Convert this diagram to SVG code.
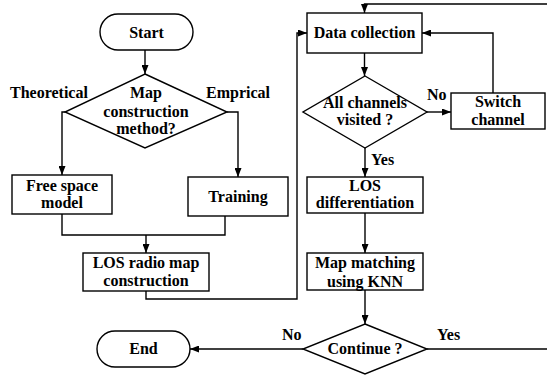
<svg xmlns="http://www.w3.org/2000/svg" width="547" height="379" viewBox="0 0 547 379">
<style>
.s{fill:#fff;stroke:#000;stroke-width:1.4}
.c{fill:none;stroke:#000;stroke-width:1.4}
text{font-family:"Liberation Serif","Times New Roman",serif;font-weight:bold;font-size:16px;fill:#000;text-anchor:middle}
.l{text-anchor:start}
</style>
<defs>
<marker id="a" markerWidth="9" markerHeight="7" refX="9" refY="3.5" orient="auto" markerUnits="userSpaceOnUse">
<path d="M0,0 L9,3.5 L0,7 z" fill="#000"/>
</marker>
</defs>
<rect width="547" height="379" fill="#fff"/>
<g id="connectors">
<path class="c" d="M145,50 V74" marker-end="url(#a)"/>
<path class="c" d="M65,112 H62 V175" marker-end="url(#a)"/>
<path class="c" d="M227,112 H238 V177" marker-end="url(#a)"/>
<path class="c" d="M62,214 V235 H225 V216"/>
<path class="c" d="M146,235 V253" marker-end="url(#a)"/>
<path class="c" d="M146,291 V299 H297 V33 H307" marker-end="url(#a)"/>
<path class="c" d="M547,4 H364.5 V13" marker-end="url(#a)"/>
<path class="c" d="M364.5,53 V76" marker-end="url(#a)"/>
<path class="c" d="M427,112 H451" marker-end="url(#a)"/>
<path class="c" d="M493,93 V33 H422" marker-end="url(#a)"/>
<path class="c" d="M365,148 V177" marker-end="url(#a)"/>
<path class="c" d="M365,213 V253" marker-end="url(#a)"/>
<path class="c" d="M365,290 V324" marker-end="url(#a)"/>
<path class="c" d="M427,349 H547"/>
<path class="c" d="M303,349 H190" marker-end="url(#a)"/>
<text class="l" x="10" y="98">Theoretical</text>
<text class="l" x="206" y="98">Emprical</text>
<text class="l" x="427" y="100">No</text>
<text class="l" x="371" y="165">Yes</text>
<text class="l" x="282" y="340">No</text>
<text class="l" x="437" y="340">Yes</text>
</g>
<g id="start">
<rect class="s" x="100" y="14" width="93" height="36" rx="18"/>
<text x="146.5" y="38">Start</text>
</g>
<g id="method">
<polygon class="s" points="145,74 227,112 145,148 65,112"/>
<text x="146" y="98">Map</text>
<text x="146" y="117">construction</text>
<text x="146" y="134">method?</text>
</g>
<g id="freespace">
<rect class="s" x="12" y="175" width="100" height="39"/>
<text x="62" y="191">Free space</text>
<text x="62" y="208">model</text>
</g>
<g id="training">
<rect class="s" x="188" y="177" width="100" height="39"/>
<text x="238" y="202">Training</text>
</g>
<g id="losmap">
<rect class="s" x="83" y="253" width="126" height="38"/>
<text x="146" y="268">LOS radio map</text>
<text x="146" y="286">construction</text>
</g>
<g id="datacollection">
<rect class="s" x="307" y="13" width="115" height="40"/>
<text x="364.5" y="38">Data collection</text>
</g>
<g id="visited">
<polygon class="s" points="365,76 427,112 365,148 303,112"/>
<text x="365" y="108">All channels</text>
<text x="365" y="125">visited ?</text>
</g>
<g id="switch">
<rect class="s" x="451" y="93" width="94" height="36"/>
<text x="498" y="107">Switch</text>
<text x="498" y="125">channel</text>
</g>
<g id="losdiff">
<rect class="s" x="307" y="177" width="116" height="36"/>
<text x="365" y="191">LOS</text>
<text x="365" y="208">differentiation</text>
</g>
<g id="knn">
<rect class="s" x="307" y="253" width="116" height="37"/>
<text x="365" y="268">Map matching</text>
<text x="365" y="287">using KNN</text>
</g>
<g id="continue">
<polygon class="s" points="365,324 427,349 365,374 303,349"/>
<text x="365" y="354">Continue ?</text>
</g>
<g id="end">
<rect class="s" x="97" y="331" width="93" height="36" rx="18"/>
<text x="143.5" y="354">End</text>
</g>
</svg>
